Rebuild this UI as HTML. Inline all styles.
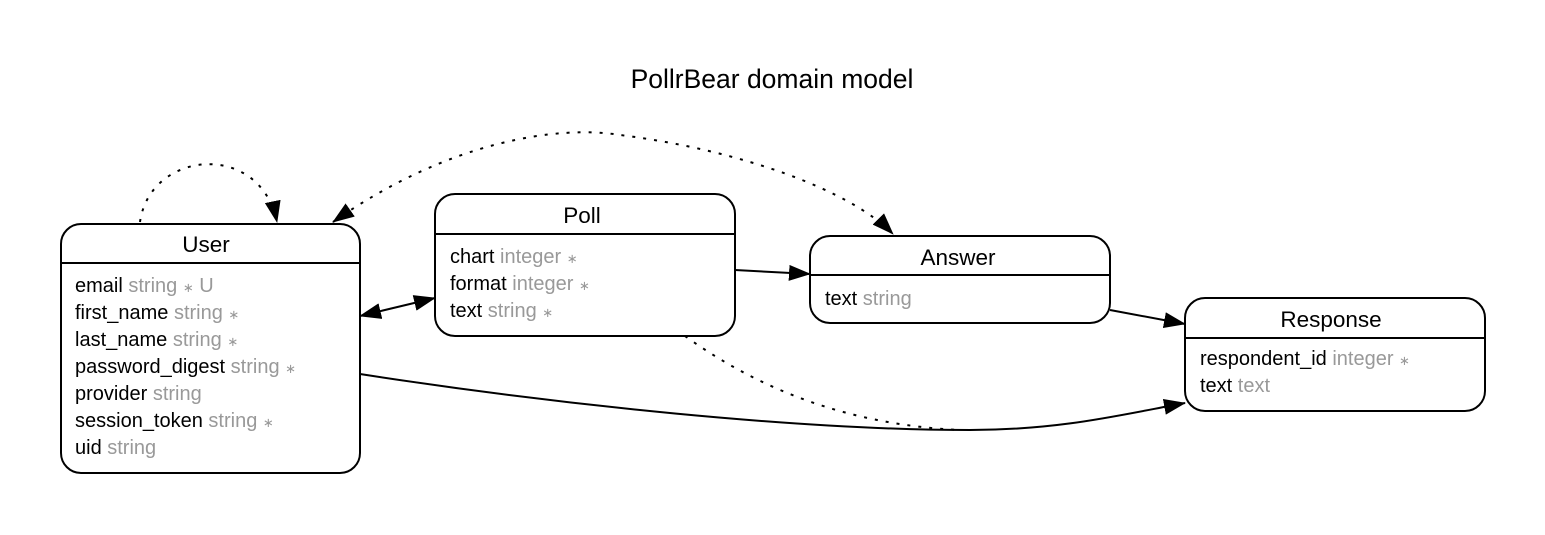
<!DOCTYPE html>
<html><head><style>body{margin:0;background:#fff}svg{display:block}text{font-family:"Liberation Sans",Arial,sans-serif;font-size:20px}text.t{font-size:22.5px}.s{font-size:13px}</style></head><body>
<svg width="1545" height="535" viewBox="0 0 1545 535">
<defs>
<marker id="b" markerWidth="22" markerHeight="16" refX="21" refY="8" orient="auto-start-reverse" markerUnits="userSpaceOnUse" viewBox="0 0 22 16"><path d="M0,0L22,8L0,16z" fill="#000"/></marker></defs>
<text x="772" y="88" text-anchor="middle" style="font-size:26.5px">PollrBear domain model</text>
<g fill="none" stroke="#000" stroke-width="2">
<path d="M140,222 C150,150 260,140 277,222" stroke-dasharray="3,8" marker-end="url(#b)"/>
<path d="M333,222 C450,140 560,125 620,135 C740,150 850,190 893,234" stroke-dasharray="3,8" marker-start="url(#b)" marker-end="url(#b)"/>
<path d="M360,316 L435,298" marker-start="url(#b)" marker-end="url(#b)"/>
<path d="M735,270 L810,274" marker-end="url(#b)"/>
<path d="M1110,310 L1185,324" marker-end="url(#b)"/>
<path d="M685,336 C760,390 850,425 960,430" stroke-dasharray="3,8"/>
<path d="M360,374 C560,405 800,430 970,430 C1060,430 1120,415 1185,403" marker-end="url(#b)"/>
<rect x="61" y="224" width="299" height="249" rx="20"/><line x1="61" y1="263" x2="360" y2="263"/>
<rect x="435" y="194" width="300" height="142" rx="20"/><line x1="435" y1="234" x2="735" y2="234"/>
<rect x="810" y="236" width="300" height="87" rx="20"/><line x1="810" y1="275" x2="1110" y2="275"/>
<rect x="1185" y="298" width="300" height="113" rx="20"/><line x1="1185" y1="338" x2="1485" y2="338"/>
</g>
<g text-anchor="middle"><text class="t" x="206" y="252">User</text><text class="t" x="582" y="223">Poll</text><text class="t" x="958" y="265">Answer</text><text class="t" x="1331" y="327">Response</text></g>
<g fill="#000">
<text x="75" y="292">email <tspan fill="#999">string <tspan class="s">∗</tspan> U</tspan></text>
<text x="75" y="319">first_name <tspan fill="#999">string <tspan class="s">∗</tspan></tspan></text>
<text x="75" y="346">last_name <tspan fill="#999">string <tspan class="s">∗</tspan></tspan></text>
<text x="75" y="373">password_digest <tspan fill="#999">string <tspan class="s">∗</tspan></tspan></text>
<text x="75" y="400">provider <tspan fill="#999">string</tspan></text>
<text x="75" y="427">session_token <tspan fill="#999">string <tspan class="s">∗</tspan></tspan></text>
<text x="75" y="454">uid <tspan fill="#999">string</tspan></text>
<text x="450" y="263">chart <tspan fill="#999">integer <tspan class="s">∗</tspan></tspan></text>
<text x="450" y="290">format <tspan fill="#999">integer <tspan class="s">∗</tspan></tspan></text>
<text x="450" y="317">text <tspan fill="#999">string <tspan class="s">∗</tspan></tspan></text>
<text x="825" y="305">text <tspan fill="#999">string</tspan></text>
<text x="1200" y="365">respondent_id <tspan fill="#999">integer <tspan class="s">∗</tspan></tspan></text>
<text x="1200" y="392">text <tspan fill="#999">text</tspan></text>
</g>
</svg>
</body></html>
